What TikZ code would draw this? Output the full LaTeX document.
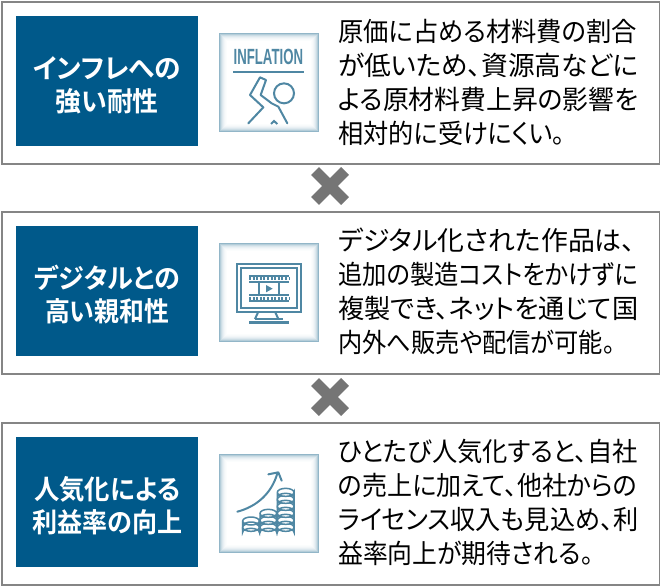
\documentclass[tikz,border=0pt]{standalone}
\usepackage{fontspec}
\newfontfamily\jpfont[RawFeature=+palt]{Noto Sans CJK JP}
\newfontfamily\jpbold[RawFeature=+palt]{Noto Sans CJK JP Bold}
\setsansfont{Liberation Sans}
\definecolor{headblue}{HTML}{00598A}
\definecolor{icon}{HTML}{4F87A3}
\definecolor{glow}{HTML}{86AEC2}
\definecolor{framegray}{HTML}{858585}
\definecolor{crossgray}{HTML}{757575}
\tikzset{
  panel/.style={draw=framegray,line width=1.8pt,fill=white,minimum width=658pt,minimum height=162pt,anchor=north west,inner sep=0pt},
  head/.style={fill=headblue,text=white,minimum width=182pt,minimum height=130pt,anchor=north west,inner sep=0pt,align=center,font=\jpbold\fontsize{27}{33}\selectfont},
  iconbox/.style={minimum width=100pt,minimum height=99pt,anchor=north west,inner sep=0pt,fill=white},
  body/.style={anchor=west,inner sep=0pt,align=left,font=\jpfont\fontsize{26.5}{34}\selectfont},
  cross/.style={draw=crossgray,line width=11pt},
  iconline/.style={draw=icon,line width=2pt},
  coinline/.style={draw=icon,line width=1.5pt}
}
\newcommand{\fitline}[2]{\resizebox{#1pt}{\height}{#2}}
\newcommand{\headgap}{\rule{0pt}{30pt}}
\newcommand{\glowframe}[1]{
  \foreach \i/\k in {0/90,1/62,2/42,3/28,4/18,5/11,6/6,7/3}
    \draw [draw=glow!\k!white,line width=1pt]
      ([xshift=\i pt+0.5pt,yshift=-\i pt-0.5pt]#1.north west) rectangle ([xshift=-\i pt-0.5pt,yshift=\i pt+0.5pt]#1.south east);
}
\begin{document}
\begin{tikzpicture}[x=1pt,y=-1pt]
\useasboundingbox (0,0) rectangle (660,586);
\node [panel] (panelA) at (1,1) {};
\node [panel] (panelB) at (1,211) {};
\node [panel] (panelC) at (1,422) {};
\node [head] (headA) at (16,16) {\headgap\fitline{148}{インフレへの}\\\fitline{103}{強い耐性}};
\node [head] (headB) at (16,226) {\headgap\fitline{146}{デジタルとの}\\\fitline{124}{高い親和性}};
\node [head] (headC) at (16,437) {\headgap\fitline{146}{人気化による}\\\fitline{150}{利益率の向上}};
\node [iconbox] (iconA) at (219,33) {};
\node [iconbox] (iconB) at (219,243) {};
\node [iconbox] (iconC) at (219,454) {};
\glowframe{iconA}
\glowframe{iconB}
\glowframe{iconC}
\node [body] (bodyA) at (338,82) {\fitline{299}{原価に占める材料費の割合}\\\fitline{300}{が低いため、資源高などに}\\\fitline{300}{よる原材料費上昇の影響を}\\\fitline{227}{相対的に受けにくい。}};
\node [body] (bodyB) at (338,291) {\fitline{297}{デジタル化された作品は、}\\\fitline{300}{追加の製造コストをかけずに}\\\fitline{300}{複製でき、ネットを通じて国}\\\fitline{277}{内外へ販売や配信が可能。}};
\node [body] (bodyC) at (338,502) {\fitline{300}{ひとたび人気化すると、自社}\\\fitline{299}{の売上に加えて、他社からの}\\\fitline{300}{ライセンス収入も見込め、利}\\\fitline{255}{益率向上が期待される。}};
% crosses
\draw [cross] (315,171) -- (345,201) (345,171) -- (315,201);
\draw [cross] (315,382) -- (345,412) (345,382) -- (315,412);
% inflation icon
\begin{scope}[shift={(200,20)},scale=1/3]
\node [text=icon,xscale=0.6,inner sep=0pt,font=\sffamily\bfseries\fontsize{22}{22}\selectfont] (inflation) at (205,112) {INFLATION};
\draw [draw=icon,line width=2pt] (100,157) -- (312,157);
\draw [iconline,line join=round,line cap=round] (145,310) -- (190,262) -- (150,225) -- (180,172) -- (198,180) -- (182,225) -- (215,250) -- (235,260) -- (262,310);
\draw [iconline] (252,220) circle (30);
\draw [iconline] (213,312) -- (222,303) -- (232,312);
\end{scope}
% monitor icon
\begin{scope}[shift={(200,230)},scale=1/3]
\draw [iconline] (110,103) rectangle (303,245);
\draw [iconline] (122,113) rectangle (292,235);
\draw [iconline] (175,245) -- (165,267) (225,245) -- (235,267);
\draw [iconline] (165,266) -- (250,266);
\draw [draw=icon,line width=2.4pt] (148,277) -- (268,277);
\draw [iconline] (147,137) -- (268,137) (147,155) -- (268,155) (147,195) -- (268,195) (147,212) -- (268,212);
\draw [draw=icon,line width=3pt,dash pattern=on 2pt off 1.6pt] (147,146) -- (268,146) (147,204) -- (268,204);
\draw [iconline] (178,155) -- (178,195) (238,155) -- (238,195);
\fill [icon] (198,165) -- (218,176) -- (198,187) -- cycle;
\end{scope}
% coins icon
\begin{scope}[shift={(200,440)},scale=1/3]
\draw [iconline,line cap=round] (112,215) .. controls (170,200) and (215,160) .. (232,100);
\draw [iconline,line cap=round,line join=round] (205,103) -- (235,97) -- (245,122);
\foreach \cx/\levels in {153/{262,243},205/{262,241,220},257/{262,241,220,199,178,157}}
  \foreach \cy in \levels
    \draw [coinline,fill=white] (\cx-25,\cy) -- (\cx-25,\cy+15) arc (180:360:25 and 12) -- (\cx+25,\cy) arc (0:180:25 and 12) arc (180:360:25 and 12);
\end{scope}
\end{tikzpicture}
\end{document}
